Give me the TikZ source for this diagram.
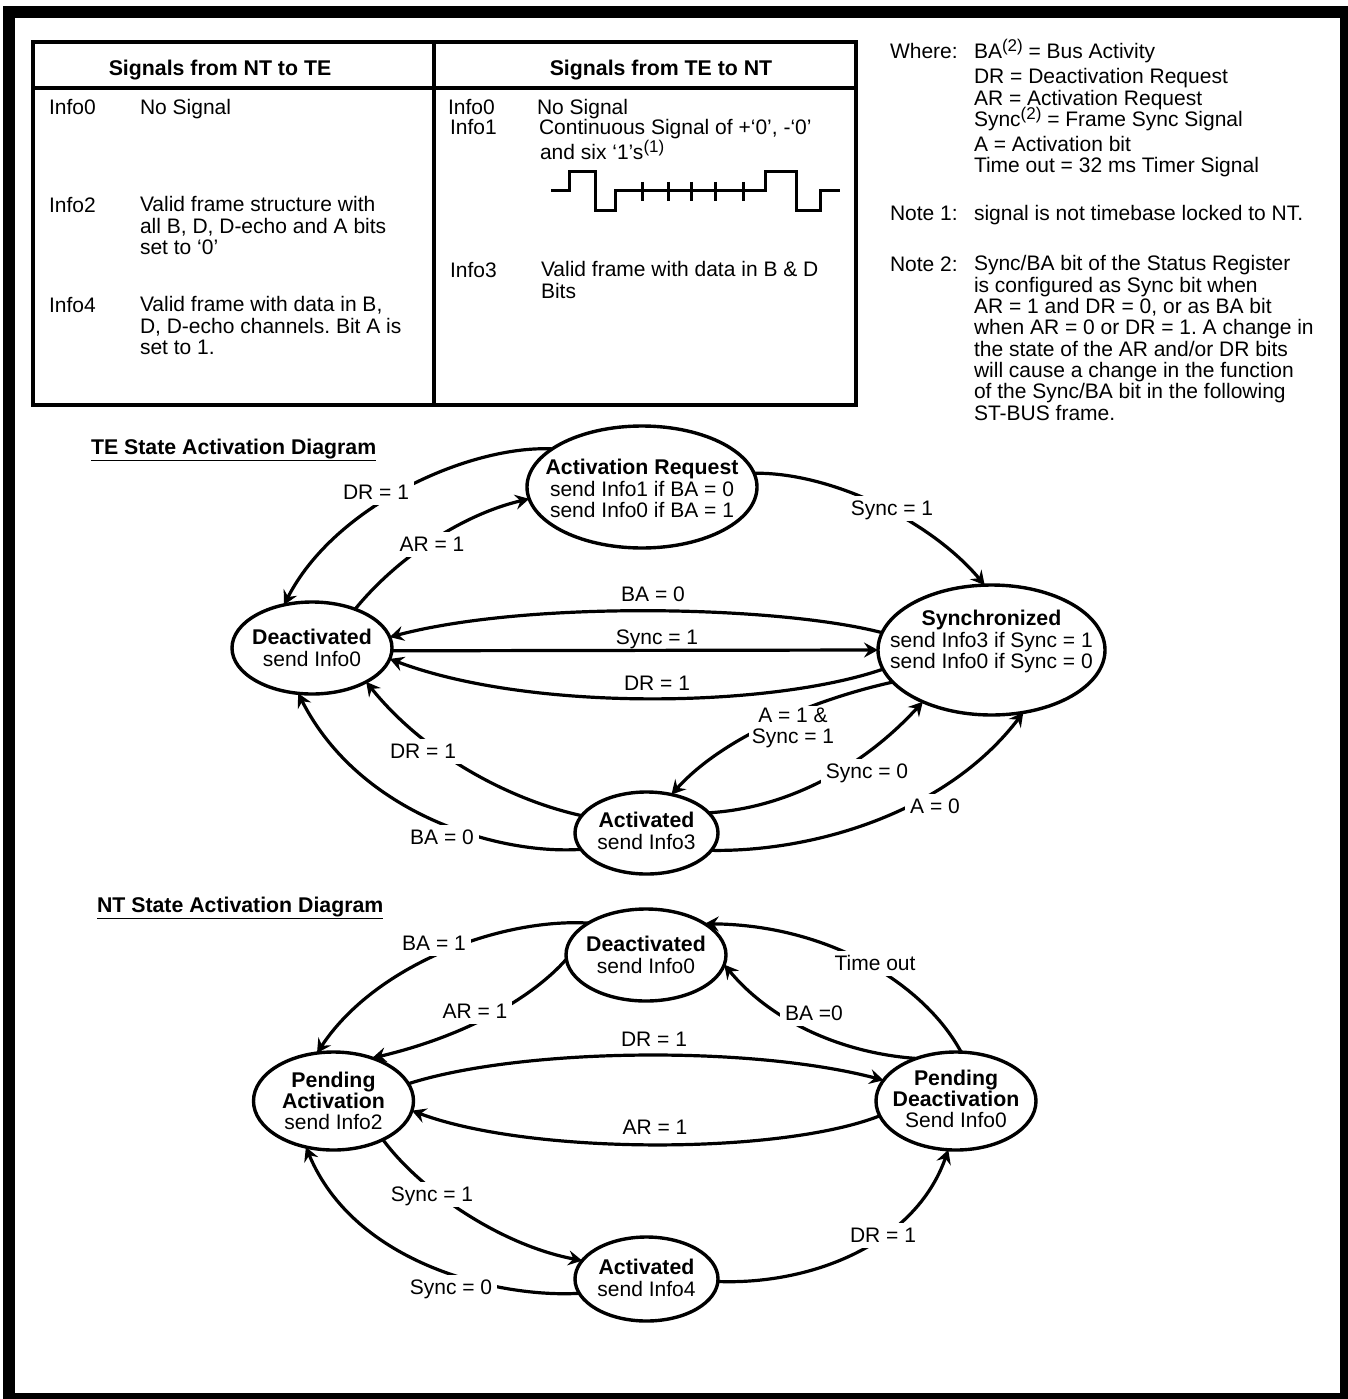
\documentclass[tikz,border=0pt]{standalone}
\usepackage{fontspec}
\setmainfont{Liberation Sans}
\usetikzlibrary{arrows.meta,shapes.geometric}
\frenchspacing
\newcommand{\supnum}[1]{\raisebox{7.5pt}{\fontsize{17}{17}\selectfont(#1)}}
\newcommand{\bt}[1]{{\fontsize{21.3}{21.3}\selectfont\bfseries #1}}
\tikzset{
  base text/.style={font=\fontsize{21}{21.3}\selectfont,inner sep=0pt,outer sep=0pt},
  tx/.style={base text,anchor=base west},
  block/.style={base text,anchor=north west,align=left},
  head/.style={base text,anchor=base,font=\fontsize{21.3}{21.3}\selectfont\bfseries},
  title/.style={base text,anchor=base west,font=\fontsize{21.3}{21.3}\selectfont\bfseries},
  tableline/.style={line width=4pt,line cap=rect},
  wave/.style={line width=3pt},
  st/.style={ellipse,draw,line width=3.4pt,inner sep=0pt,outer sep=0pt,fill=white},
  statetxt/.style={base text,align=center,anchor=center},
  conn/.style={line width=3.2pt},
  arr/.style={conn,-{Stealth[length=14pt,width=15pt,inset=5pt]}},
  lab/.style={base text,fill=white,align=center,text height=15pt,text depth=0pt,inner xsep=5pt,inner ysep=5pt},
  labtwo/.style={base text,fill=white,align=center,inner xsep=3pt,inner ysep=2pt}
}
\begin{document}
\begin{tikzpicture}[x=1pt,y=-1pt]
\useasboundingbox (0,0) rectangle (1348,1399);
\fill[white] (0,0) rectangle (1348,1399);
\fill[black] (3,6) rectangle (1348,1399);
\fill[white] (15,18) rectangle (1340,1393);
% table
\draw[tableline] (33,42) rectangle (855.5,405);
\draw[tableline] (33,88) -- (855.5,88);
\draw[tableline] (434,42) -- (434,405);
\node[head] (h1) at (220,76) {Signals from NT to TE};
\node[head] (h2) at (661,76) {Signals from TE to NT};
\node[tx] (l0) at (49,115) {Info0};
\node[tx] (l0t) at (140,115) {No Signal};
\node[tx] (l2) at (49,212) {Info2};
\node[block] (l2t) at (140,196.7) {Valid frame structure with\\all B, D, D-echo and A bits\\set to ‘0’};
\node[tx] (l4) at (49,312) {Info4};
\node[block] (l4t) at (140,296.7) {Valid frame with data in B,\\D, D-echo channels. Bit A is\\set to 1.};
\node[tx] (r0) at (448,115) {Info0};
\node[tx] (r0t) at (537,115) {No Signal};
\node[tx] (r1) at (450,135) {Info1};
\node[tx] (r1a) at (539,135) {Continuous Signal of +‘0’, -‘0’};
\node[tx] (r1b) at (540,160) {and six ‘1’s\supnum{1}};
\node[tx] (r3) at (450,277) {Info3};
\node[block] (r3t) at (541,261.7) {Valid frame with data in B \& D\\Bits};
% waveform
\draw[wave] (551,191) -- (569,191) -- (569,172) -- (595,172) -- (595,210) -- (615,210) -- (615,191) -- (765,191) -- (765,172) -- (796,172) -- (796,210) -- (820,210) -- (820,191) -- (840,191);
\foreach \xx in {642,668,691,715,743} \draw[wave] (\xx,182) -- (\xx,201);
% notes
\node[tx] (w0) at (890,59) {Where:};
\node[tx] (w1) at (974,59) {BA\supnum{2} = Bus Activity};
\node[tx] (w2) at (974,84) {DR = Deactivation Request};
\node[tx] (w3) at (974,106) {AR = Activation Request};
\node[tx] (w4) at (974,127) {Sync\supnum{2} = Frame Sync Signal};
\node[tx] (w5) at (974,152) {A = Activation bit};
\node[tx] (w6) at (974,173) {Time out = 32 ms Timer Signal};
\node[tx] (n1) at (890,220) {Note 1:};
\node[tx] (n1t) at (974,220) {signal is not timebase locked to NT.};
\node[tx] (n2) at (890,271) {Note 2:};
\node[block] (n2t) at (974,255.7) {Sync/BA bit of the Status Register\\is configured as Sync bit when\\AR = 1 and DR = 0, or as BA bit\\when AR = 0 or DR = 1. A change in\\the state of the AR and/or DR bits\\will cause a change in the function\\of the Sync/BA bit in the following\\ST-BUS frame.};
% TE diagram
\node[title] (tet) at (91,454) {\underline{TE State Activation Diagram}};
\node[st,minimum width=230pt,minimum height=122pt,label={[statetxt,yshift=-1.5pt]center:{\bt{Activation Request}\\send Info1 if BA = 0\\send Info0 if BA = 1}}] (ar) at (642,487) {};
\node[st,minimum width=160pt,minimum height=92pt,label={[statetxt]center:{\bt{Deactivated}\\send Info0}}] (de) at (312,648) {};
\node[st,minimum width=227pt,minimum height=130pt,label={[statetxt,yshift=8.3pt]center:{\bt{Synchronized}\\send Info3 if Sync = 1\\send Info0 if Sync = 0}}] (sy) at (991.5,650) {};
\node[st,minimum width=143pt,minimum height=82pt,label={[statetxt,yshift=2pt]center:{\bt{Activated}\\send Info3}}] (ac) at (646.5,833) {};
\draw[arr] (ar.157.7) .. controls (470,445) and (335,505) .. (de.123);
\draw[arr] (de.42.3) .. controls (395,560) and (460,515) .. (ar.186.6);
\draw[arr] (sy.171.8) .. controls (780,606) and (530,600) .. (de.8.1);
\draw[arr] (de.-2.1) -- (sy.180.5);
\draw[arr] (sy.190.2) .. controls (770,708) and (530,712) .. (de.-8.9);
\draw[arr] (sy.198.3) .. controls (820,698) and (725,735) .. (ac.57.5);
\draw[arr] (ac.18.3) .. controls (790,808) and (865,765) .. (sy.217.3);
\draw[arr] (ac.-15.4) .. controls (810,852) and (945,815) .. (sy.-63.4);
\draw[arr] (ac.165.7) .. controls (510,800) and (425,755) .. (de.-32);
\draw[arr] (ac.194.3) .. controls (500,855) and (360,815) .. (de.253.4);
\draw[arr] (ar.7.6) .. controls (830,472) and (930,520) .. (sy.96.4);
\node[lab] (t1) at (376,492) {DR = 1};
\node[lab] (t2) at (432,544) {AR = 1};
\node[lab,fill=none] (t3) at (653,594) {BA = 0};
\node[lab,fill=none] (t4) at (657,637) {Sync = 1};
\node[lab,fill=none] (t5) at (657,683) {DR = 1};
\node[lab] (t6) at (423,751) {DR = 1};
\node[lab] (t7) at (442,837) {BA = 0};
\node[lab] (t8) at (892,508) {Sync = 1};
\node[labtwo] (t9) at (793,727.7) {A = 1 \&\\Sync = 1};
\node[lab] (t10) at (867,771) {Sync = 0};
\node[lab] (t11) at (935,806) {A = 0};
% NT diagram
\node[title] (ntt) at (97,912) {\underline{NT State Activation Diagram}};
\node[st,minimum width=160pt,minimum height=92pt,label={[statetxt]center:{\bt{Deactivated}\\send Info0}}] (nd) at (646,955) {};
\node[st,minimum width=160pt,minimum height=98pt,label={[statetxt]center:{\bt{Pending}\\\bt{Activation}\\send Info2}}] (pa) at (333.5,1101) {};
\node[st,minimum width=160pt,minimum height=98pt,label={[statetxt,yshift=2pt]center:{\bt{Pending}\\\bt{Deactivation}\\Send Info0}}] (pd) at (956,1101) {};
\node[st,minimum width=143pt,minimum height=84pt,label={[statetxt,yshift=1pt]center:{\bt{Activated}\\send Info4}}] (na) at (646.5,1279) {};
\draw[arr] (nd.151.5) .. controls (500,918) and (375,965) .. (pa.109.7);
\draw[arr] (nd.183.6) .. controls (535,995) and (470,1035) .. (pa.48);
\draw[arr] (pa.13.6) .. controls (520,1048) and (750,1045) .. (pd.164.4);
\draw[arr] (pd.191.7) .. controls (780,1155) and (530,1155) .. (pa.-7.9);
\draw[arr] (pa.-38.2) .. controls (420,1190) and (500,1245) .. (na.164.6);
\draw[arr] (na.192.7) .. controls (500,1298) and (355,1265) .. (pa.239.3);
\draw[arr] (pd.84.2) .. controls (925,985) and (830,925) .. (nd.28.5);
\draw[arr] (pd.133) .. controls (840,1053) and (770,1020) .. (nd.-7.8);
\draw[arr] (na.-2.4) .. controls (810,1285) and (915,1245) .. (pd.261);
\node[lab] (u1) at (434,943) {BA = 1};
\node[lab] (u2) at (475,1011) {AR = 1};
\node[lab,fill=none] (u3) at (654,1039) {DR = 1};
\node[lab,fill=none] (u4) at (655,1127) {AR = 1};
\node[lab] (u5) at (432,1194) {Sync = 1};
\node[lab] (u6) at (451,1287) {Sync = 0};
\node[lab] (u7) at (875,963) {Time out};
\node[lab] (u8) at (814,1013) {BA =0};
\node[lab] (u9) at (883,1235) {DR = 1};
\end{tikzpicture}
\end{document}
